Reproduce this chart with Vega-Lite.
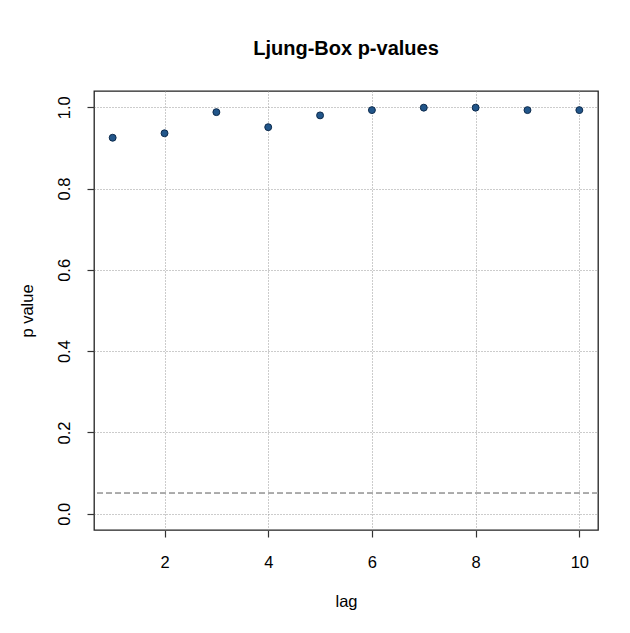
{
  "$schema": "https://vega.github.io/schema/vega-lite/v6.json",
  "autosize": "none",
  "width": 504,
  "height": 439,
  "padding": {"left": 94, "top": 91, "right": 32, "bottom": 103},
  "background": "white",
  "title": {
    "text": "Ljung-Box p-values",
    "font": "Liberation Sans",
    "fontSize": 20,
    "fontWeight": "bold",
    "color": "#000",
    "anchor": "middle",
    "offset": 32
  },
  "config": {
    "view": {"stroke": "#222", "strokeWidth": 1.3},
    "axis": {
      "labelFont": "Liberation Sans",
      "titleFont": "Liberation Sans",
      "labelFontSize": 16.5,
      "titleFontSize": 16.5,
      "titleFontWeight": "normal",
      "labelColor": "#000",
      "titleColor": "#000",
      "domain": false,
      "tickColor": "#333",
      "tickSize": 7,
      "tickWidth": 1.2,
      "grid": true,
      "gridColor": "#999",
      "gridDash": [1, 2],
      "gridWidth": 1,
      "gridOpacity": 1
    }
  },
  "data": {
    "values": [
      {"lag": 1, "p": 0.925},
      {"lag": 2, "p": 0.936},
      {"lag": 3, "p": 0.988},
      {"lag": 4, "p": 0.951},
      {"lag": 5, "p": 0.980},
      {"lag": 6, "p": 0.993},
      {"lag": 7, "p": 0.999},
      {"lag": 8, "p": 0.999},
      {"lag": 9, "p": 0.993},
      {"lag": 10, "p": 0.993}
    ]
  },
  "layer": [
    {
      "mark": {"type": "rule", "color": "#aaa", "strokeDash": [6, 3], "strokeWidth": 1.2},
      "encoding": {"y": {"datum": 0.05, "type": "quantitative"}}
    },
    {
      "mark": {"type": "circle", "size": 48, "fill": "#22568a", "stroke": "#0c2a4c", "strokeWidth": 1, "opacity": 1},
      "encoding": {
        "x": {
          "field": "lag",
          "type": "quantitative",
          "scale": {"domain": [0.64, 10.36], "nice": false, "zero": false},
          "axis": {"values": [2, 4, 6, 8, 10], "title": "lag", "labelPadding": 17, "titlePadding": 23}
        },
        "y": {
          "field": "p",
          "type": "quantitative",
          "scale": {"domain": [-0.04, 1.04], "nice": false, "zero": false},
          "axis": {
            "values": [0, 0.2, 0.4, 0.6, 0.8, 1.0],
            "format": ".1f",
            "title": "p value",
            "labelAngle": 270,
            "labelAlign": "center",
            "labelBaseline": "bottom",
            "labelPadding": 15,
            "titlePadding": 21
          }
        }
      }
    }
  ]
}
